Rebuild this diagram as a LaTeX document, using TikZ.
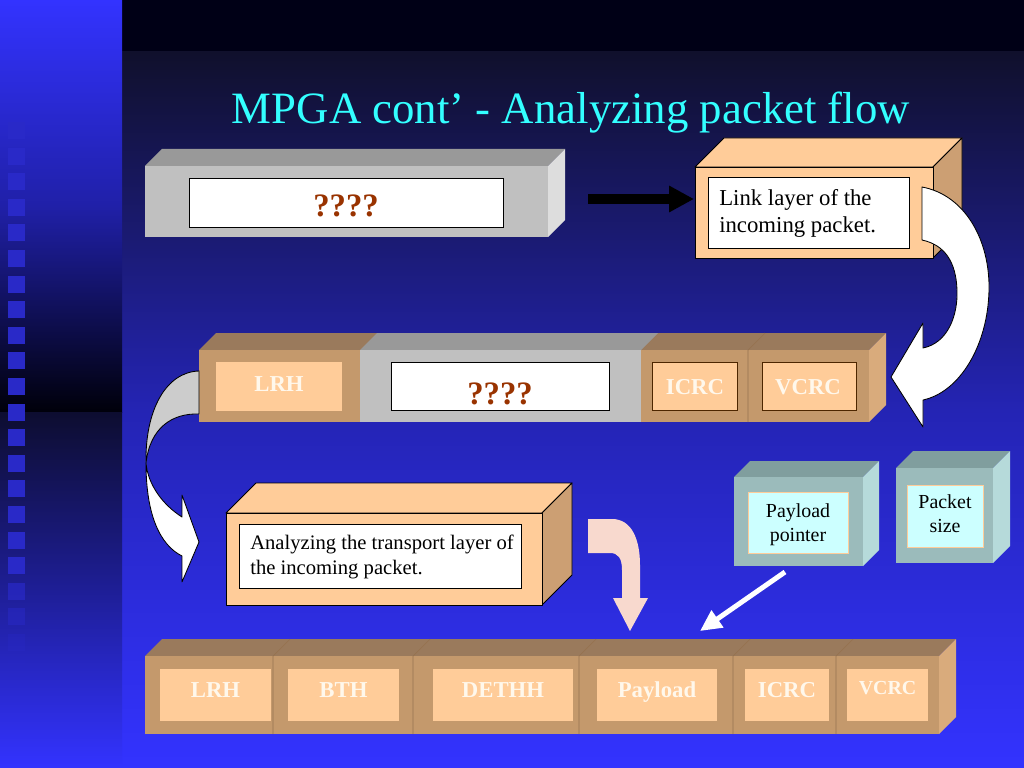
\documentclass[tikz,border=0pt]{standalone}
\usepackage{fontspec}
\setmainfont{Liberation Serif}
\usetikzlibrary{arrows.meta}
\definecolor{bgTop}{RGB}{0,0,22}
\definecolor{mainA}{RGB}{16,16,44}
\definecolor{mainB}{RGB}{36,36,180}
\definecolor{mainC}{RGB}{51,51,255}
\definecolor{stripA}{RGB}{51,51,255}
\definecolor{stripB}{RGB}{32,32,168}
\definecolor{stripC}{RGB}{0,0,10}
\definecolor{stripD}{RGB}{13,13,48}
\definecolor{stripE}{RGB}{30,30,150}
\definecolor{sqcol}{RGB}{41,41,200}
\definecolor{peach}{RGB}{255,204,153}
\definecolor{tanF}{RGB}{196,153,108}
\definecolor{tanT}{RGB}{154,122,92}
\definecolor{tanS}{RGB}{217,171,124}
\definecolor{linkS}{RGB}{204,159,115}
\definecolor{grayF}{RGB}{192,192,192}
\definecolor{grayT}{RGB}{153,153,153}
\definecolor{grayS}{RGB}{221,221,221}
\definecolor{tealF}{RGB}{155,187,187}
\definecolor{tealT}{RGB}{128,158,158}
\definecolor{tealS}{RGB}{182,218,218}
\definecolor{lcyan}{RGB}{204,255,255}
\definecolor{pinkA}{RGB}{248,217,206}
\definecolor{titleCol}{RGB}{51,255,255}
\definecolor{qcol}{RGB}{153,51,0}
\definecolor{dbrown}{RGB}{77,38,0}
\definecolor{secCol}{RGB}{150,115,80}
\definecolor{lblCol}{RGB}{255,248,236}
\definecolor{arrGray}{RGB}{204,204,204}
\tikzset{
  lbl/.style={font=\fontsize{16}{19}\selectfont\bfseries, text=lblCol, inner sep=0pt},
  lblsmall/.style={font=\fontsize{14}{17}\selectfont\bfseries, text=lblCol, inner sep=0pt},
  qmark/.style={font=\fontsize{23}{27}\selectfont\bfseries, text=qcol, inner sep=0pt},
  bodytext/.style={align=left, inner sep=0pt, text=black},
  ctrtext/.style={align=center, inner sep=0pt, text=black, font=\fontsize{14}{17}\selectfont},
  whitebox/.style={fill=white, draw=black, line width=0.6pt},
  crcbox/.style={fill=peach, draw=dbrown, line width=0.7pt},
  cyanbox/.style={fill=lcyan, draw=peach, line width=0.6pt},
  secline/.style={draw=secCol, line width=0.5pt},
  blockarrow/.style={draw=black, line width=0.6pt, line join=round},
}
% #1 style, #2 x1, #3 y1, #4 x2, #5 y2, #6 depth, #7 front, #8 top, #9 side
\newcommand{\cuboid}[9]{%
  \path[fill=#8,#1] (#2,#3) -- ({#2+#6},{#3-#6}) -- ({#4+#6},{#3-#6}) -- (#4,#3) -- cycle;
  \path[fill=#9,#1] (#4,#3) -- ({#4+#6},{#3-#6}) -- ({#4+#6},{#5-#6}) -- (#4,#5) -- cycle;
  \path[fill=#7,#1] (#2,#3) rectangle (#4,#5);
}
\begin{document}
\begin{tikzpicture}[x=0.703125pt,y=-0.703125pt]
\useasboundingbox (0,0) rectangle (1024,768);
% ---------- background ----------
\fill[bgTop] (122,0) rectangle (1024,52);
\shade[top color=mainA, bottom color=mainC, middle color=mainB] (122,52) rectangle (1024,768);
\shade[top color=stripA, bottom color=stripC, middle color=stripB] (0,0) rectangle (122,412);
\shade[top color=stripD, bottom color=mainC, middle color=stripE] (0,412) rectangle (122,768);
\foreach \k in {0,...,17} \fill[sqcol] (8,{122+25.6*\k}) rectangle (25,{139+25.6*\k});
\foreach \k/\o in {18/0.7,19/0.5,20/0.3,21/0.15} \fill[sqcol, opacity=\o] (8,{122+25.6*\k}) rectangle (25,{139+25.6*\k});
% ---------- title ----------
\node[anchor=base, text=titleCol, inner sep=0pt, font=\fontsize{31.5}{36}\selectfont] (title) at (571,124) {MPGA cont’ - Analyzing packet flow};
% ---------- top gray box ----------
\cuboid{}{145}{166}{548}{237}{17}{grayF}{grayT}{grayS}
\draw[whitebox] (189,178) rectangle (503,227);
\node[qmark, anchor=base] (q1) at (346,217) {????};
% ---------- black arrow ----------
\coordinate (ba1) at (588,199);
\coordinate (ba2) at (694,199);
\draw[line width=7pt, -{Triangle[length=17.5pt,width=17.5pt]}] (ba1) -- (ba2);
% ---------- link layer box ----------
\cuboid{draw=black,line width=0.6pt,line join=round}{695}{167}{933}{258}{29}{peach}{peach}{linkS}
\draw[whitebox] (708,177) rectangle (909,248);
\node[bodytext, anchor=north west, font=\fontsize{16}{19.2}\selectfont] (link) at (719,189) {Link layer of the\\incoming packet.};
% ---------- middle bar ----------
\cuboid{}{199}{350}{869}{422}{17}{tanF}{tanT}{tanS}
\fill[grayT] (360,350) -- (377,333) -- (658,333) -- (641,350) -- cycle;
\fill[grayF] (360,350) rectangle (641,422);
\draw[secline] (748,422) -- (748,350) -- (765,333);
\fill[peach] (216,362) rectangle (342,411);
\node[lbl, anchor=base] (lrh1) at (279,391) {LRH};
\draw[whitebox] (391,362) rectangle (609,410);
\node[qmark, anchor=base] (q2) at (500,404) {????};
\draw[crcbox] (652,362) rectangle (737,410);
\node[lbl, anchor=base] (icrc1) at (695,394) {ICRC};
\draw[crcbox] (762,362) rectangle (856,410);
\node[lbl, anchor=base] (vcrc1) at (808,394) {VCRC};
% ---------- big white curved arrow (right) ----------
\path[blockarrow, fill=white] (922,187) .. controls (965,195) and (990,240) .. (989,290)
  .. controls (988,345) and (960,392) .. (923,400) -- (923,427) -- (891,377) -- (923,323) -- (923,348)
  .. controls (948,343) and (958,315) .. (957,290) .. controls (956,262) and (945,245) .. (922,240) -- cycle;
% ---------- left curved arrow ----------
\path[blockarrow, fill=arrGray] (199,371) .. controls (166,372) and (145,410) .. (146,463)
  .. controls (150,428) and (172,413) .. (199,414) -- cycle;
\path[blockarrow, fill=white] (146,463) .. controls (146,515) and (160,545) .. (182,556)
  -- (182,582) -- (199,542) -- (182,495) -- (182,517)
  .. controls (163,505) and (148,485) .. (146,463) -- cycle;
% ---------- analyzing box ----------
\cuboid{draw=black,line width=0.6pt,line join=round}{226}{513}{542}{605}{30}{peach}{peach}{linkS}
\draw[whitebox] (239,524) rectangle (521,588);
\node[bodytext, anchor=north west, font=\fontsize{14.5}{17.6}\selectfont] (ana) at (250,534.5) {Analyzing the transport layer of\\the incoming packet.};
% ---------- pink arrow ----------
\fill[pinkA] (588,519) -- (612,519) .. controls (632,519) and (640,540) .. (640,565) -- (640,598)
  -- (648,598) -- (630,631) -- (613,598) -- (622,598) -- (622,570)
  .. controls (622,558) and (618,553) .. (610,553) -- (588,553) -- cycle;
% ---------- payload pointer / packet size ----------
\cuboid{}{734}{477}{863}{566}{16}{tealF}{tealT}{tealS}
\draw[cyanbox] (748,492) rectangle (848,553);
\node[ctrtext, anchor=north] (pp) at (798,503.5) {Payload\\pointer};
\cuboid{}{896}{468}{993}{563}{17}{tealF}{tealT}{tealS}
\draw[cyanbox] (907,485) rectangle (983,547);
\node[ctrtext, anchor=north] (ps) at (945,494.5) {Packet\\size};
% ---------- white thin arrow ----------
\coordinate (wa1) at (785,572);
\coordinate (wa2) at (700,631);
\draw[white, line width=3.5pt, -{Triangle[length=15pt,width=14pt]}] (wa1) -- (wa2);
% ---------- bottom bar ----------
\cuboid{}{145}{656}{939}{734}{17}{tanF}{tanT}{tanS}
\foreach \s in {273,413,579,733,836} \draw[secline] (\s,734) -- (\s,656) -- ({\s+17},639);
\fill[peach] (160,669) rectangle (271,721);
\fill[peach] (288,669) rectangle (399,721);
\fill[peach] (433,669) rectangle (573,721);
\fill[peach] (597,669) rectangle (717,721);
\fill[peach] (745,669) rectangle (829,721);
\fill[peach] (847,669) rectangle (928,721);
\node[lbl, anchor=base] (lrh2) at (215.5,697) {LRH};
\node[lbl, anchor=base] (bth) at (343.5,697) {BTH};
\node[lbl, anchor=base] (dethh) at (503,697) {DETHH};
\node[lbl, anchor=base] (payload) at (657,697) {Payload};
\node[lbl, anchor=base] (icrc2) at (787,697) {ICRC};
\node[lblsmall, anchor=base] (vcrc2) at (887.5,694) {VCRC};
\end{tikzpicture}
\end{document}
